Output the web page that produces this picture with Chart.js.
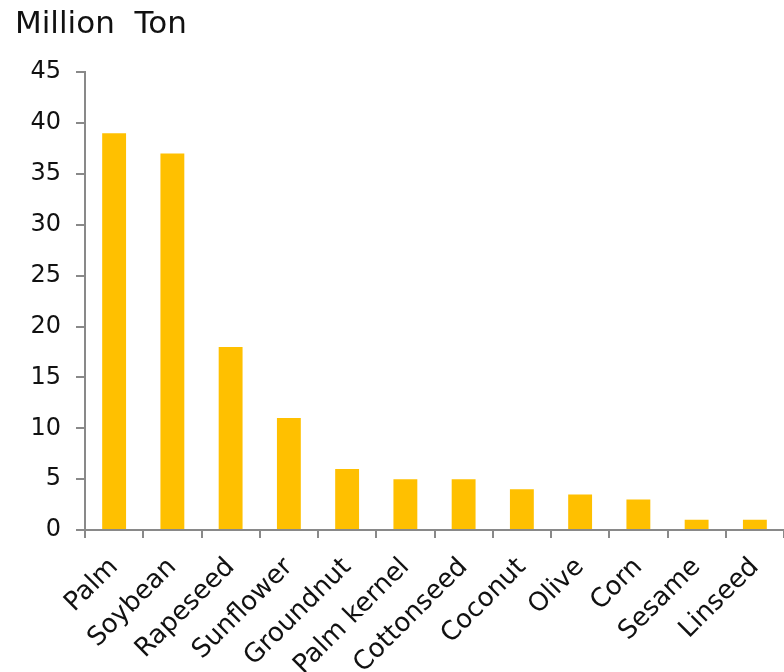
<!DOCTYPE html>
<html>
<head>
<meta charset="utf-8">
<script src="https://cdn.jsdelivr.net/npm/chart.js@4.4.1/dist/chart.umd.min.js"></script>
<style>
html,body{margin:0;padding:0;background:#fff;}
#wrap{width:784px;height:672px;position:relative;}
</style>
</head>
<body>
<div id="wrap"><canvas id="c" width="784" height="672"></canvas></div>
<script>
const categories = ["Palm","Soybean","Rapeseed","Sunflower","Groundnut","Palm kernel","Cottonseed","Coconut","Olive","Corn","Sesame","Linseed"];
const production = [39, 37, 18, 11, 6, 5, 5, 4, 3.5, 3, 1, 1];
const yTicks = [0, 5, 10, 15, 20, 25, 30, 35, 40, 45];
const unitLabel = "Million  Ton";

const FONT = "'DejaVu Sans', sans-serif";
const AXIS = "#898989";

new Chart(document.getElementById('c'), {
  type: 'bar',
  data: {
    labels: categories,
    datasets: [{
      data: production,
      backgroundColor: '#FFC000',
      borderWidth: 0,
      categoryPercentage: 1,
      barPercentage: 0.41
    }]
  },
  options: {
    responsive: false,
    animation: false,
    devicePixelRatio: 1,
    layout: { padding: { left: 15, right: 0, top: 0, bottom: 0 } },
    plugins: {
      legend: { display: false },
      tooltip: { enabled: false },
      title: {
        display: true,
        text: unitLabel,
        align: 'start',
        color: '#111',
        font: { family: FONT, size: 31, weight: 'normal' },
        padding: { top: 6, bottom: 29 }
      }
    },
    scales: {
      y: {
        min: 0, max: 45,
        afterBuildTicks: (s) => { s.ticks = yTicks.map(v => ({ value: v })); },
        afterFit: (s) => { s.width = 70; },
        border: { display: true, color: AXIS, width: 2 },
        grid: { display: true, drawOnChartArea: false, drawTicks: true, tickLength: 9, color: AXIS, tickColor: AXIS, lineWidth: 2 },
        ticks: { color: '#111', font: { family: FONT, size: 24 }, padding: 15 }
      },
      x: {
        afterFit: (s) => { s.height = 142; s.paddingRight = 0; s.paddingLeft = 0; },
        border: { display: true, color: AXIS, width: 2 },
        grid: { display: true, offset: true, drawOnChartArea: false, drawTicks: true, tickLength: 8, color: AXIS, tickColor: AXIS, lineWidth: 2 },
        ticks: { color: '#111', font: { family: FONT, size: 26 }, minRotation: 45, maxRotation: 45, autoSkip: false, padding: 14 }
      }
    }
  }
});
</script>
</body>
</html>
